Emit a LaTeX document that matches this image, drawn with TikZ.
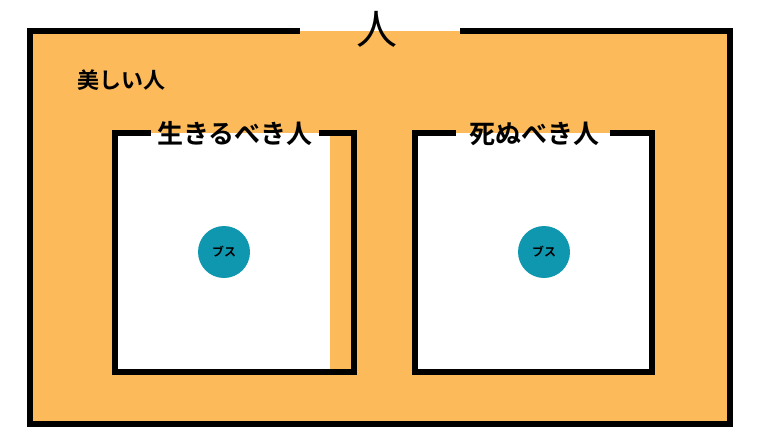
\documentclass[tikz,border=0pt]{standalone}
\usepackage{fontspec}
\newfontfamily\jp{Noto Sans CJK JP}
\newfontfamily\jpb{Noto Sans CJK JP Bold}
\definecolor{orangefill}{HTML}{FDBA5A}
\definecolor{tealdot}{HTML}{0E97AE}
\begin{document}
\begin{tikzpicture}[x=1pt,y=-1pt,
  frame/.style={line width=5.5pt,black,line cap=rect,line join=miter},
  title/.style={inner sep=0pt,font=\jpb\fontsize{26}{26}\selectfont},
  dot/.style={circle,fill=tealdot,minimum size=52pt,inner sep=0pt,font=\jpb\fontsize{12}{12}\selectfont}]
\useasboundingbox (0,0) rectangle (760,428);
\fill[white] (0,0) rectangle (760,428);
% outer area
\fill[orangefill] (30,31) rectangle (730,424);
\draw[frame] (297,31) -- (30,31) -- (30,424) -- (730,424) -- (730,31) -- (463,31);
\node[inner sep=0pt,font=\jp\fontsize{41}{41}\selectfont] (hito) at (377,29) {人};
\node[inner sep=0pt,font=\jpb\fontsize{22}{22}\selectfont] (utsukushii) at (121,80) {美しい人};
% box 1
\fill[white] (115,133) rectangle (330,372);
\draw[frame] (148,133) -- (115,133) -- (115,372) -- (354,372) -- (354,133) -- (322,133);
\node[title] (ikiru) at (235,134) {生きるべき人};
\node[dot] (busu1) at (224,252) {ブス};
% box 2
\fill[white] (415,133) rectangle (652,372);
\draw[frame] (453,133) -- (415,133) -- (415,372) -- (652,372) -- (652,133) -- (613,133);
\node[title] (shinu) at (534,134) {死ぬべき人};
\node[dot] (busu2) at (544,252) {ブス};
\end{tikzpicture}
\end{document}
